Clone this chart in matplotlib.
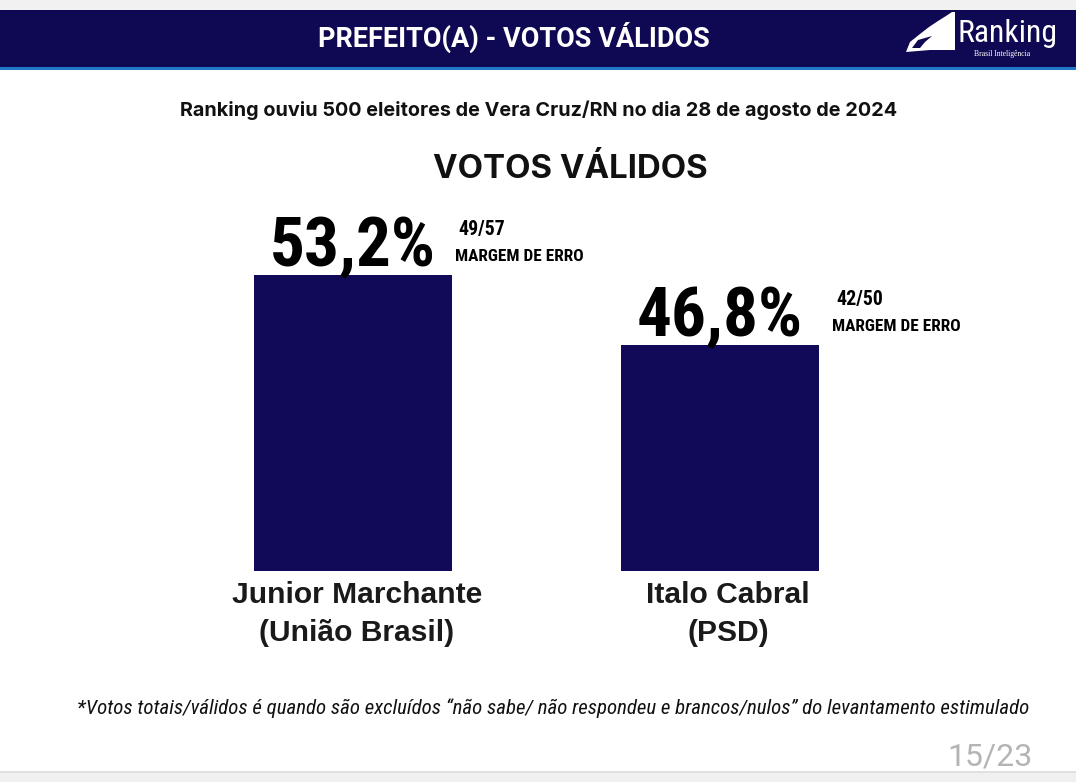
import matplotlib
matplotlib.use("Agg")
import matplotlib.pyplot as plt
from matplotlib import font_manager
from matplotlib.patches import Rectangle, Polygon

# ---- data ----
candidates = ["Junior Marchante", "Italo Cabral"]
parties = ["(União Brasil)", "(PSD)"]
values = [53.2, 46.8]
margins = ["49/57", "42/50"]
margin_label = "MARGEM DE ERRO"

header_title = "PREFEITO(A) - VOTOS VÁLIDOS"
subtitle = "Ranking ouviu 500 eleitores de Vera Cruz/RN no dia 28 de agosto de 2024"
chart_title = "VOTOS VÁLIDOS"
footnote = "*Votos totais/válidos é quando são excluídos “não sabe/ não respondeu e brancos/nulos” do levantamento estimulado"
page_label = "15/23"

NAVY = "#0f0852"
BAR = "#110a58"
W, H = 1076, 782

# pick the most condensed sans family available
_fonts = font_manager.fontManager.ttflist
_names = {f.name for f in _fonts}
NARROW_FAMILY, NARROW_STRETCH = "DejaVu Sans", "normal"
for cand in ["Roboto Condensed", "Liberation Sans Narrow", "Open Sans Condensed",
             "DejaVu Sans Condensed"]:
    if cand in _names:
        NARROW_FAMILY = cand
        break
else:
    if any(f.name == "DejaVu Sans" and f.stretch == "condensed" for f in _fonts):
        NARROW_STRETCH = "condensed"
NARROW = [NARROW_FAMILY, "DejaVu Sans"]

fig = plt.figure(figsize=(W / 100, H / 100), dpi=100)
fig.patch.set_facecolor("white")
renderer = fig.canvas.get_renderer()


def P(x, y):
    return (x / W, 1 - y / H)


def rect(x0, y0, x1, y1, color, z=0):
    fig.patches.append(Rectangle(P(x0, y1), (x1 - x0) / W, (y1 - y0) / H,
                                 transform=fig.transFigure, facecolor=color,
                                 edgecolor="none", zorder=z))


def fit(t, target_w):
    w = t.get_window_extent(renderer).width
    if w > 0:
        t.set_fontsize(t.get_fontsize() * target_w / w)
    return t


# background strips
rect(0, 0, W, 10, "#f1f1f1")
rect(0, 10, W, 67, NAVY)
rect(0, 67, W, 70, "#1f78c8")
rect(0, 772, W, H, "#f0f0f0")
rect(0, 771, W, 773, "#e0e0e0")

# header title
fit(fig.text(*P(514, 47), header_title, color="white", fontsize=19,
             fontweight="bold", family=["Roboto", "DejaVu Sans"],
             ha="center", va="baseline"), 392)

# logo
icon = [P(906, 52), P(910, 42), P(920, 34), P(929, 27), P(938, 21),
        P(946, 16), P(952, 12), P(955, 12), P(955, 50), P(930, 50)]
fig.patches.append(Polygon(icon, closed=True, transform=fig.transFigure,
                           facecolor="white", edgecolor="none"))
swoosh = [P(912, 48), P(918, 40), P(932, 36), P(925, 42), P(920, 48)]
fig.patches.append(Polygon(swoosh, closed=True, transform=fig.transFigure,
                           facecolor=NAVY, edgecolor="none"))
fit(fig.text(*P(1007, 42), "Ranking", color="white", fontsize=25,
             family=NARROW, fontstretch=NARROW_STRETCH,
             ha="center", va="baseline"), 100)
fig.text(*P(1002, 56), "Brasil Inteligência", color="white", fontsize=5.5,
         family=["Liberation Serif", "DejaVu Serif"], ha="center", va="baseline")

# subtitle and chart title
fit(fig.text(*P(539, 116.5), subtitle, color="#111111", fontsize=13,
             fontweight="bold", family=["Inter", "DejaVu Sans"],
             ha="center", va="baseline"), 718)
fit(fig.text(*P(570, 178), chart_title, color="#111111", fontsize=24,
             fontweight="bold", family=["Inter", "DejaVu Sans"],
             ha="center", va="baseline"), 275)

# ---- bar chart ----
ax = fig.add_axes([100 / W, (H - 571) / H, 900 / W, 371 / H])
ax.set_facecolor("none")
x = list(range(len(candidates)))
ax.bar(x, values, width=0.5395, color=BAR, zorder=2)
ax.set_xlim(-0.6894, 1.763)
ax.set_ylim(26.14, 60.05)
ax.axis("off")

PX = 0.72  # pixels -> points
for i, (v, m) in enumerate(zip(values, margins)):
    t = ax.annotate(f"{v:.1f}".replace(".", ",") + "%", xy=(i, v),
                    xytext=(0, 9 * PX), textcoords="offset points",
                    ha="center", va="baseline", fontsize=47, fontweight="bold",
                    family=NARROW, fontstretch=NARROW_STRETCH, color="black",
                    annotation_clip=False)
    fit(t, 166)
    t1 = ax.annotate(m, xy=(i, v), xytext=((105 + 11 * i) * PX, 40 * PX),
                     textcoords="offset points", ha="left", va="baseline",
                     fontsize=12.5, fontweight="bold", family=NARROW,
                     fontstretch=NARROW_STRETCH, color="black",
                     annotation_clip=False)
    fit(t1, 47)
    t2 = ax.annotate(margin_label, xy=(i, v),
                     xytext=((102 + 10 * i) * PX, 14 * PX),
                     textcoords="offset points", ha="left", va="baseline",
                     fontsize=12.5, fontweight="bold", family=NARROW,
                     fontstretch=NARROW_STRETCH, color="black",
                     annotation_clip=False)
    fit(t2, 128)

for i, (name, party) in enumerate(zip(candidates, parties)):
    for j, label in enumerate([name, party]):
        ax.annotate(label, xy=(i, 0), xycoords=("data", "axes fraction"),
                    xytext=((4 + 4 * i) * PX, (-32 - 38 * j) * PX),
                    textcoords="offset points",
                    ha="center", va="baseline", fontsize=21.6, fontweight="bold",
                    family=["Liberation Sans", "DejaVu Sans"], color="#1a1a1a",
                    annotation_clip=False)

# footnote and page number
fit(fig.text(*P(553, 714), footnote, color="#111111", fontsize=15,
             style="italic", family=NARROW, fontstretch=NARROW_STRETCH,
             ha="center", va="baseline"), 956)
fit(fig.text(*P(1033, 765), page_label, color="#b4b4b4", fontsize=21,
             family=["Roboto", "DejaVu Sans"], fontweight="normal",
             ha="right", va="baseline"), 85)

fig.savefig("out.png", dpi=100)
